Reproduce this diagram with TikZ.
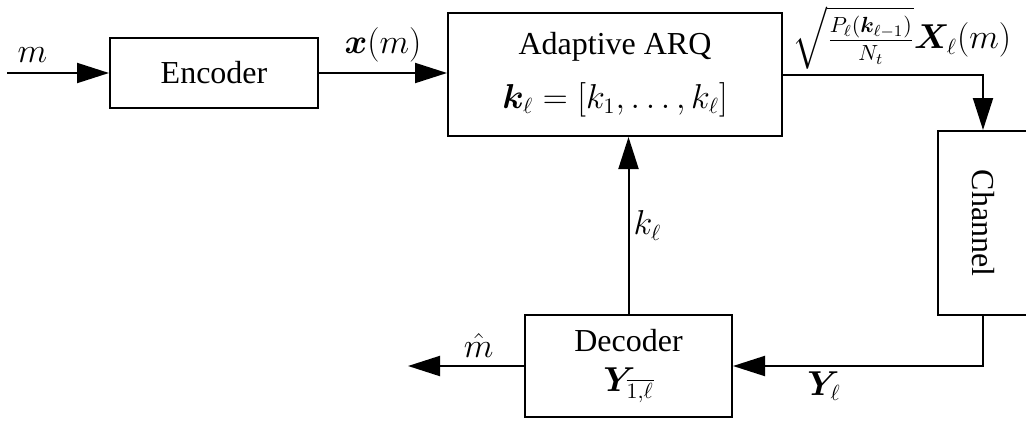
\documentclass[tikz,border=0pt]{standalone}
\usepackage{amsmath,bm}
\usepackage{fontspec}
\setmainfont{Liberation Serif}
\usetikzlibrary{arrows.meta, positioning, calc}
\tikzset{
  block/.style={
    rectangle, draw=black, fill=white, line width=1pt,
    inner sep=0pt, align=center
  },
  arrow/.style={-{Triangle[length=16pt,width=10pt]}, line width=1pt},
  tag/.style={inner sep=2pt},
}

\begin{document}
\begin{tikzpicture}[x=0.5pt, y=-0.5pt, font=\fontsize{16}{19}\selectfont]
  \useasboundingbox (0,0) rectangle (1026,423);

  % blocks
  \node[block, minimum width=104pt, minimum height=35pt] (enc) at (214,73) {Encoder};
  \node[block, minimum width=167pt, minimum height=61.5pt] (arq) at (615,74.5)
    {Adaptive ARQ\\[8pt] $\bm{k}_\ell=[k_1,\ldots,k_\ell]$};
  \node[block, minimum width=45pt, minimum height=92pt] (chan) at (983,223)
    {\rotatebox{-90}{Channel}};
  \node[block, minimum width=103.5pt, minimum height=51pt] (dec) at (628.5,366)
    {Decoder\\[1pt] $\bm{Y}_{\overline{1,\ell}}$};

  \coordinate[left=51pt of enc.west] (in);
  \coordinate[left=58pt of dec.west] (out);

  % forward path
  \draw[arrow] (in) -- node[tag, pos=0.25, above=3pt] (msg) {$m$} (enc);
  \draw[arrow] (enc.east) -- node[tag, above=3pt] (xm) {$\bm{x}(m)$} (enc.east -| arq.west);
  \draw[arrow] (arq.east) -| (chan.north);
  \node[inner sep=0pt] (gain) at (902,38)
    {$\sqrt{\frac{P_\ell(\bm{k}_{\ell-1})}{N_t}}\bm{X}_\ell(m)$};

  % return path
  \draw[arrow] (chan.south) |- (dec.east);
  \node (yl) at (824,386) {$\bm{Y}_\ell$};
  \draw[arrow] (dec.west) -- node[tag, pos=0.39, above=2pt] (mhat) {$\hat{m}$} (out);
  \draw[arrow] (dec.north) -- node[tag, right=0pt] (kl) {$k_\ell$} (dec.north |- arq.south);
\end{tikzpicture}
\end{document}
